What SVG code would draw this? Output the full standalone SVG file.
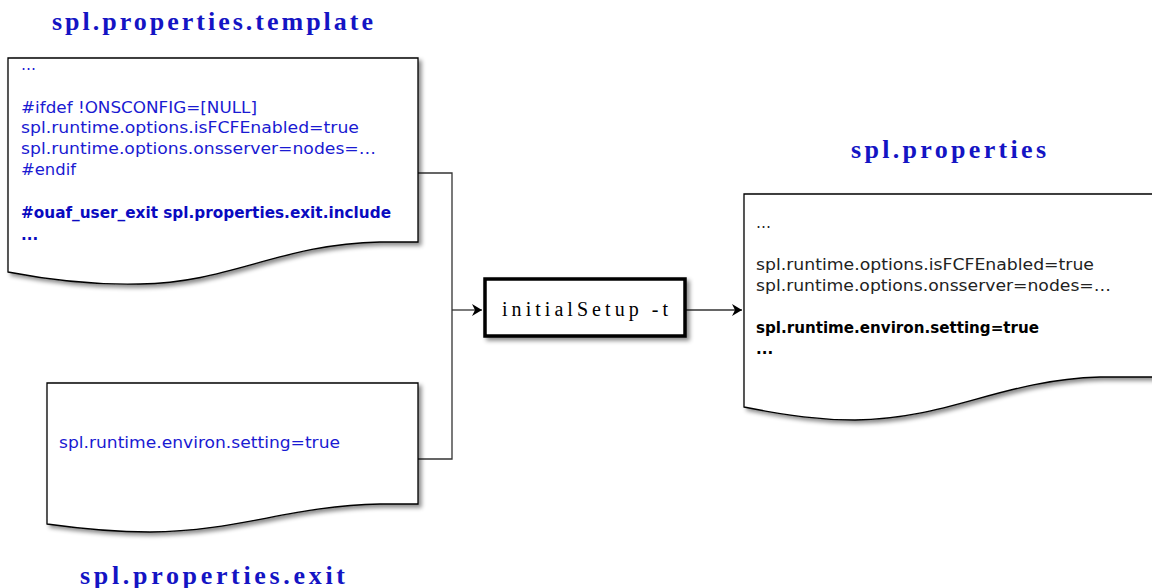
<svg xmlns="http://www.w3.org/2000/svg" width="1152" height="588" viewBox="0 0 1152 588">
  <defs>
    <filter id="shadow" x="-10%" y="-10%" width="130%" height="130%">
      <feDropShadow dx="3" dy="3" stdDeviation="2" flood-color="#000" flood-opacity="0.45"/>
    </filter>
    <marker id="arrow" viewBox="0 0 12 14" refX="11" refY="7" markerWidth="12" markerHeight="14" markerUnits="userSpaceOnUse" orient="auto">
      <path d="M1,1 L11,7 L1,13 L4,7 Z" fill="#000"/>
    </marker>
  </defs>
  <style>
    .doc { fill: #fff; stroke: #000; stroke-width: 1.3; filter: url(#shadow); }
    .title { font-family: "Liberation Serif", serif; font-size: 26px; font-weight: bold; fill: #1414c4; }
    .body { font-family: "DejaVu Sans", "Liberation Sans", sans-serif; font-size: 15px; }
    .blue { fill: #1a1ad2; }
    .bblue { fill: #0a0ac0; font-weight: bold; }
    .black { fill: #222; }
    .bblack { fill: #000; font-weight: bold; }
    .conn { fill: none; stroke: #333; stroke-width: 1.3; }
    .proc { fill: #fff; stroke: #000; stroke-width: 3.5; filter: url(#shadow); }
    .ptext { font-family: "Liberation Serif", serif; font-size: 20px; fill: #000; }
  </style>
  <rect width="1152" height="588" fill="#fff"/>

  <g id="connectors">
    <path class="conn" d="M418,173 H452 V459 H418"/>
    <path class="conn" d="M452,310 H482" marker-end="url(#arrow)"/>
    <path class="conn" d="M686,310 H742" marker-end="url(#arrow)"/>
  </g>

  <g id="template">
    <text class="title" x="52" y="30" textLength="321" lengthAdjust="spacing">spl.properties.template</text>
    <path class="doc" d="M8,58 H418 V242 L380,242 C280,244 230,283 140,284 C100,285 60,282 8,272 Z"/>
    <g class="body">
      <text class="blue" x="21" y="70">…</text>
      <text class="blue" x="21" y="113" textLength="236" lengthAdjust="spacingAndGlyphs">#ifdef !ONSCONFIG=[NULL]</text>
      <text class="blue" x="21" y="133" textLength="338" lengthAdjust="spacingAndGlyphs">spl.runtime.options.isFCFEnabled=true</text>
      <text class="blue" x="21" y="154" textLength="355" lengthAdjust="spacingAndGlyphs">spl.runtime.options.onsserver=nodes=…</text>
      <text class="blue" x="21" y="175" textLength="55" lengthAdjust="spacingAndGlyphs">#endif</text>
      <text class="bblue" x="21" y="218" textLength="370" lengthAdjust="spacingAndGlyphs">#ouaf_user_exit spl.properties.exit.include</text>
      <text class="bblue" x="21" y="240">...</text>
    </g>
  </g>

  <g id="exit">
    <path class="doc" d="M47,383 H418 V504 L380,504 C290,506 240,531 150,532 C120,532 90,530 47,524 Z"/>
    <text class="body blue" x="59" y="448" textLength="281" lengthAdjust="spacingAndGlyphs">spl.runtime.environ.setting=true</text>
    <text class="title" x="80" y="584" textLength="265" lengthAdjust="spacing">spl.properties.exit</text>
  </g>

  <g id="initialSetup">
    <rect class="proc" x="485" y="279" width="200" height="57"/>
    <text class="ptext" x="502" y="316" textLength="166" lengthAdjust="spacing">initialSetup -t</text>
  </g>

  <g id="properties">
    <text class="title" x="851" y="158" textLength="195" lengthAdjust="spacing">spl.properties</text>
    <path class="doc" d="M744,194 H1160 V377 L1100,377 C1000,380 950,419 855,420 C820,420 790,416 744,407 Z"/>
    <g class="body">
      <text class="black" x="756" y="228">…</text>
      <text class="black" x="756" y="270" textLength="338" lengthAdjust="spacingAndGlyphs">spl.runtime.options.isFCFEnabled=true</text>
      <text class="black" x="756" y="291" textLength="355" lengthAdjust="spacingAndGlyphs">spl.runtime.options.onsserver=nodes=…</text>
      <text class="bblack" x="756" y="333" textLength="283" lengthAdjust="spacingAndGlyphs">spl.runtime.environ.setting=true</text>
      <text class="bblack" x="756" y="354">...</text>
    </g>
  </g>
</svg>
